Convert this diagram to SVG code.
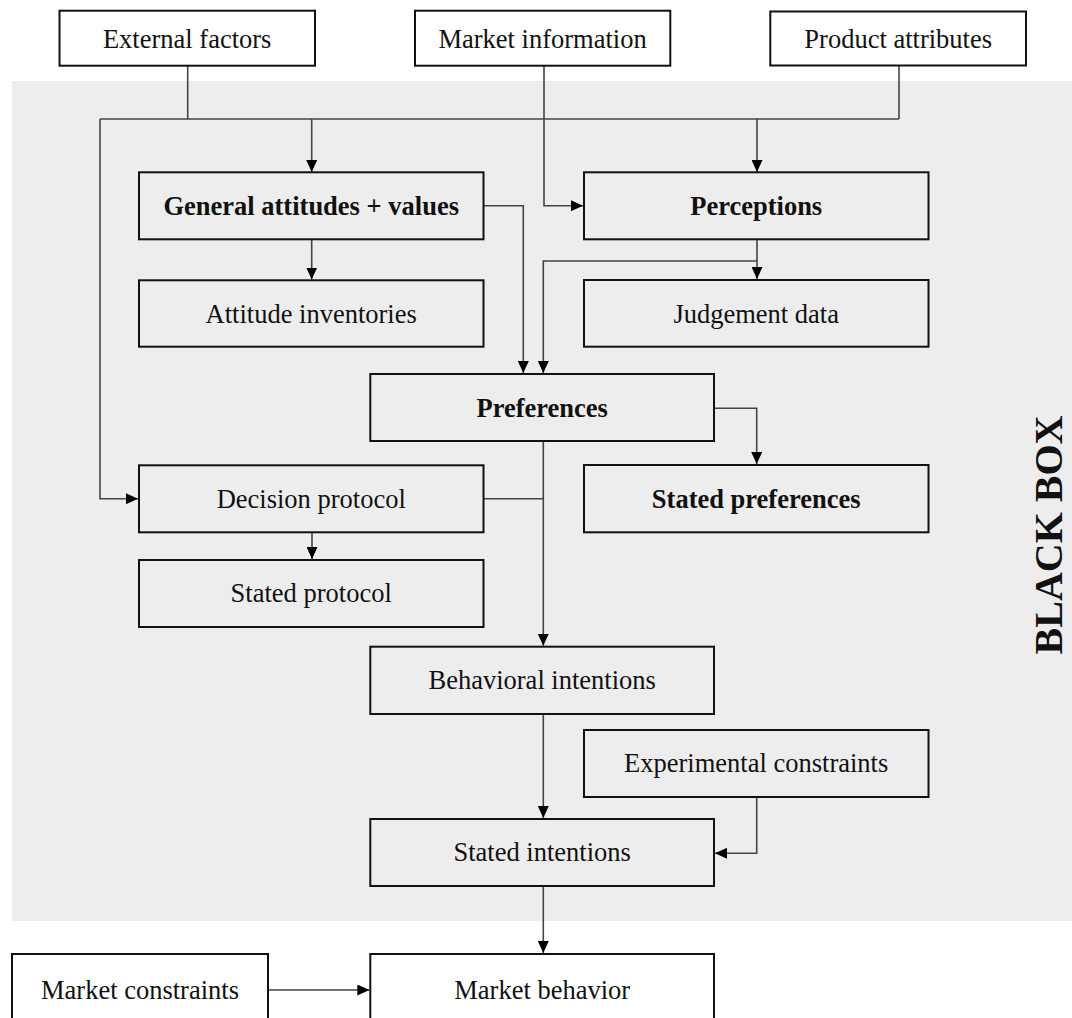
<svg xmlns="http://www.w3.org/2000/svg" width="1072" height="1018" viewBox="0 0 1072 1018">
<defs>
<marker id="arr" markerUnits="userSpaceOnUse" markerWidth="12" markerHeight="11" refX="12" refY="5.5" orient="auto">
<path d="M0,0 L12,5.5 L0,11 z" fill="#000"/>
</marker>
<style>
.box{stroke:#111;stroke-width:2;fill:none}
.wbox{stroke:#111;stroke-width:2;fill:#fff}
.t{font-family:"Liberation Serif","Times New Roman",serif;font-size:26.5px;fill:#111;text-anchor:middle}
.b{font-weight:bold}
.c{fill:none;stroke:#444;stroke-width:1.6}
.a{marker-end:url(#arr)}
</style>
</defs>
<rect x="0" y="0" width="1072" height="1018" fill="#fff"/>
<rect id="blackbox" x="12" y="81" width="1060" height="840" fill="#ededed"/>
<text class="t b" style="font-size:40px" transform="translate(1062,535) rotate(-90)">BLACK BOX</text>

<g id="connectors">
<path class="c" d="M187.7,66 V119"/>
<path class="c" d="M899,65 V119"/>
<path class="c" d="M100,119 H899"/>
<path class="c a" d="M311.7,119 V172"/>
<path class="c a" d="M757,119 V172"/>
<path class="c a" d="M100,119 V498.7 H138"/>
<path class="c a" d="M544,66 V205.7 H583"/>
<path class="c a" d="M483.5,205.7 H523.3 V373"/>
<path class="c a" d="M311.7,239.3 V279.5"/>
<path class="c a" d="M757,239.3 V279"/>
<path class="c a" d="M757,261 H543.3 V373"/>
<path class="c a" d="M714,408.3 H756.7 V464"/>
<path class="c a" d="M543.3,441 V645.7"/>
<path class="c" d="M483.5,498.7 H543.3"/>
<path class="c a" d="M312,532.3 V559"/>
<path class="c a" d="M543.3,714 V818"/>
<path class="c a" d="M756.7,797 V853.3 H715"/>
<path class="c a" d="M543.3,886 V953"/>
<path class="c a" d="M268,990 H369.3"/>
</g>

<g id="external-factors"><rect class="wbox" x="59.5" y="10.7" width="255.5" height="55"/><text class="t" x="187.2" y="47.5">External factors</text></g>
<g id="market-information"><rect class="wbox" x="415" y="10.7" width="255.3" height="55"/><text class="t" x="542.6" y="47.5">Market information</text></g>
<g id="product-attributes"><rect class="wbox" x="770.3" y="11.5" width="255.7" height="54"/><text class="t" x="898.2" y="47.5">Product attributes</text></g>
<g id="general-attitudes"><rect class="box" x="139" y="172.3" width="344.5" height="67"/><text class="t b" x="311.2" y="214.5">General attitudes + values</text></g>
<g id="perceptions"><rect class="box" x="584" y="172.3" width="344.5" height="67"/><text class="t b" x="756.2" y="214.5">Perceptions</text></g>
<g id="attitude-inventories"><rect class="box" x="139" y="280.3" width="344.5" height="66.4"/><text class="t" x="311.2" y="322.5">Attitude inventories</text></g>
<g id="judgement-data"><rect class="box" x="584" y="280" width="344.5" height="66.7"/><text class="t" x="756.2" y="322.5">Judgement data</text></g>
<g id="preferences"><rect class="box" x="370.3" y="374" width="343.7" height="67"/><text class="t b" x="542.2" y="416.5">Preferences</text></g>
<g id="decision-protocol"><rect class="box" x="139" y="465.3" width="344.5" height="67"/><text class="t" x="311.2" y="507.5">Decision protocol</text></g>
<g id="stated-preferences"><rect class="box" x="584" y="465" width="344.5" height="67.3"/><text class="t b" x="756.2" y="507.5">Stated preferences</text></g>
<g id="stated-protocol"><rect class="box" x="139" y="560" width="344.5" height="67"/><text class="t" x="311.2" y="602">Stated protocol</text></g>
<g id="behavioral-intentions"><rect class="box" x="370.3" y="646.7" width="343.7" height="67.3"/><text class="t" x="542.2" y="689">Behavioral intentions</text></g>
<g id="experimental-constraints"><rect class="box" x="584" y="730" width="344.5" height="67"/><text class="t" x="756.2" y="772">Experimental constraints</text></g>
<g id="stated-intentions"><rect class="box" x="370.3" y="819" width="343.7" height="67"/><text class="t" x="542.2" y="861">Stated intentions</text></g>
<g id="market-constraints"><rect class="wbox" x="12" y="954" width="256" height="80"/><text class="t" x="140" y="999">Market constraints</text></g>
<g id="market-behavior"><rect class="wbox" x="370.3" y="954" width="343.7" height="80"/><text class="t" x="542.2" y="999">Market behavior</text></g>
</svg>
